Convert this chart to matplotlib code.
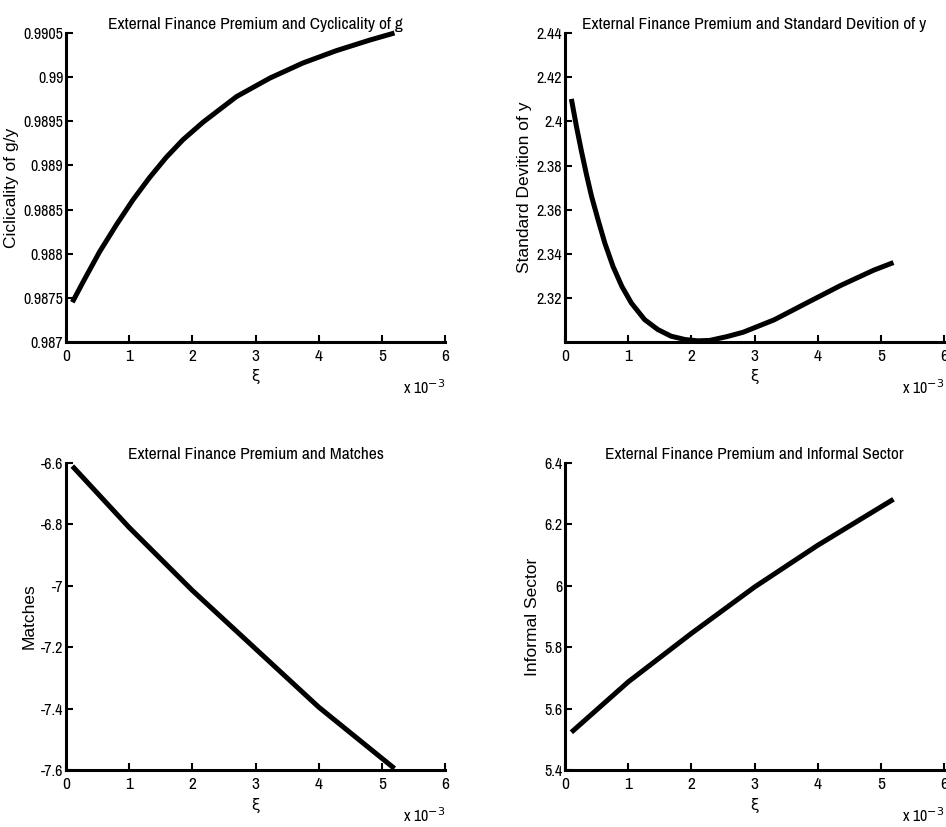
import numpy as np
import matplotlib
matplotlib.use("Agg")
from matplotlib import pyplot as plt
from matplotlib import font_manager

# xi values are in units of 1e-3
xi_cyc = [0.1, 0.27, 0.53, 0.8, 1.06, 1.32, 1.585, 1.85, 2.17, 2.7, 3.23, 3.75, 4.28, 4.81, 5.2]
cyc_g = [0.98745, 0.98768, 0.98802, 0.98833, 0.98861, 0.98886, 0.98909, 0.98929,
         0.98949, 0.98978, 0.98999, 0.99016, 0.99030, 0.99042, 0.99050]

xi_sd = [0.1, 0.18, 0.26, 0.34, 0.42, 0.53, 0.63, 0.76, 0.9, 1.05, 1.26, 1.47, 1.68,
         1.9, 2.1, 2.29, 2.56, 2.82, 3.31, 3.83, 4.36, 4.89, 5.2]
sd_y = [2.4102, 2.3978, 2.3865, 2.3759, 2.3661, 2.3548, 2.3450, 2.3344, 2.3254, 2.3179,
        2.3104, 2.3059, 2.3029, 2.3014, 2.3008, 2.3010, 2.3027, 2.3047, 2.3103, 2.3180,
        2.3258, 2.3328, 2.3362]

xi_lin = [0.1, 1.0, 2.0, 3.0, 4.0, 5.2]
matches = [-6.61, -6.81, -7.015, -7.205, -7.395, -7.595]
informal = [5.523, 5.687, 5.845, 5.996, 6.132, 6.282]

titles = ["External Finance Premium and Cyclicality of g",
          "External Finance Premium and Standard Devition of y",
          "External Finance Premium and Matches",
          "External Finance Premium and Informal Sector"]
ylabels = ["Ciclicality of g/y", "Standard Devition of y", "Matches", "Informal Sector"]
yticks_list = [[0.987, 0.9875, 0.988, 0.9885, 0.989, 0.9895, 0.99, 0.9905],
               [2.32, 2.34, 2.36, 2.38, 2.40, 2.42, 2.44],
               [-7.6, -7.4, -7.2, -7.0, -6.8, -6.6],
               [5.4, 5.6, 5.8, 6.0, 6.2, 6.4]]
ylims = [(0.987, 0.9905), (2.3003, 2.44), (-7.6, -6.6), (5.4, 6.4)]

# narrow font for titles / ticks, like the matlab output
available = {f.name for f in font_manager.fontManager.ttflist}
narrow = "Liberation Sans"
for cand in ["Liberation Sans Narrow", "Arial Narrow", "Nimbus Sans Narrow", "Archivo Narrow",
             "PT Sans Narrow", "Roboto Condensed", "Sofia Sans Condensed",
             "Barlow Semi Condensed", "IBM Plex Sans Condensed", "Encode Sans Condensed"]:
    if cand in available:
        narrow = cand
        break

fig = plt.figure(figsize=(9.46, 8.27), dpi=100)
positions = [[0.0698, 0.5865, 0.4006, 0.3736],
             [0.5973, 0.5865, 0.4006, 0.3736],
             [0.0698, 0.0689, 0.4006, 0.3712],
             [0.5973, 0.0689, 0.4006, 0.3712]]
xs = [xi_cyc, xi_sd, xi_lin, xi_lin]
ys = [cyc_g, sd_y, matches, informal]

for i in range(4):
    ax = fig.add_axes(positions[i])
    ax.plot(np.array(xs[i]) * 1e-3, ys[i], color="black", linewidth=3.6,
            solid_capstyle="butt", solid_joinstyle="round", clip_on=False)
    ax.set_xlim(0, 0.006)
    ax.set_ylim(*ylims[i])
    ax.set_xticks([j * 1e-3 for j in range(7)])
    ax.set_xticklabels([str(j) for j in range(7)], fontfamily=narrow, fontsize=12.5)
    ax.set_yticks(yticks_list[i])
    ax.set_yticklabels(["%g" % t for t in yticks_list[i]], fontfamily=narrow, fontsize=11.5)
    ax.spines["top"].set_visible(False)
    ax.spines["right"].set_visible(False)
    ax.spines["left"].set_linewidth(2.2)
    ax.spines["bottom"].set_linewidth(2.2)
    ax.tick_params(direction="in", length=5, width=1.5)
    ax.tick_params(axis="x", pad=5)
    ax.tick_params(axis="y", pad=2)
    ax.set_title(titles[i], fontfamily=narrow, fontsize=12.5, pad=3)
    ax.set_ylabel(ylabels[i], fontfamily="Liberation Sans", fontsize=12.5, labelpad=3)
    ax.set_xlabel("ξ", fontfamily="DejaVu Sans", fontsize=11, labelpad=4)
    ax.text(1.0, -0.148, r"x 10$^{-3}$", transform=ax.transAxes, ha="right",
            va="center", fontfamily=narrow, fontsize=11.5)

fig.savefig("out.png", dpi=100)
